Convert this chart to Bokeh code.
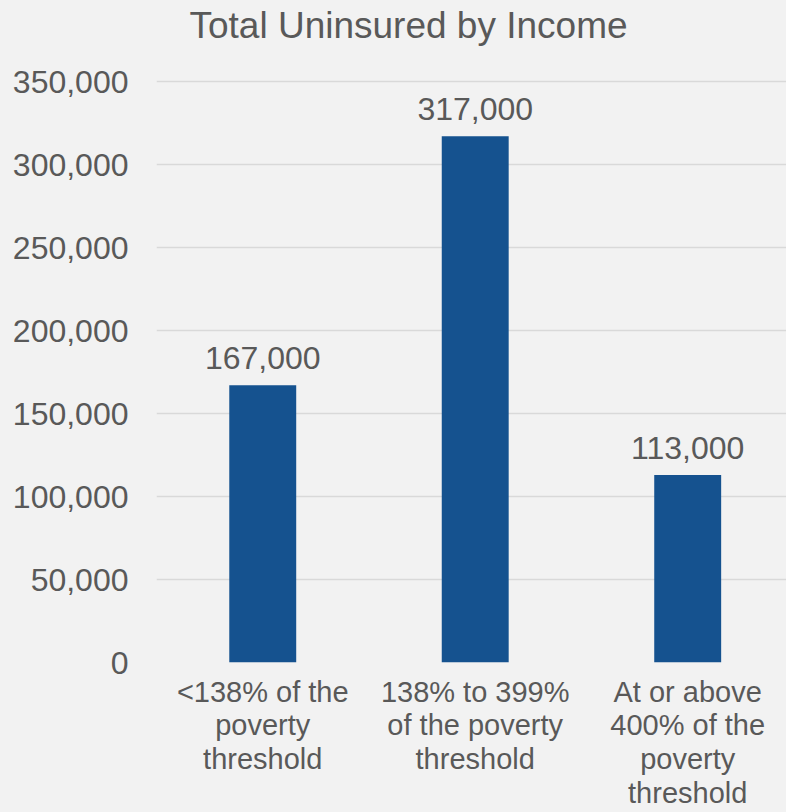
from bokeh.plotting import figure
from bokeh.models import Range1d, FixedTicker, NumeralTickFormatter, ColumnDataSource, Label
from bokeh.embed import file_html
from bokeh.resources import INLINE
from bokeh.core.properties import value

title_text = "Total Uninsured by Income"
categories = ["<138% of the\npoverty\nthreshold",
              "138% to 399%\nof the poverty\nthreshold",
              "At or above\n400% of the\npoverty\nthreshold"]
uninsured = [167000, 317000, 113000]
value_labels = ["167,000", "317,000", "113,000"]
y_ticks = [0, 50000, 100000, 150000, 200000, 250000, 300000, 350000]

BG = "#F2F2F2"
TXT = "#595959"
FONT = "Liberation Sans"

xs = [i + 0.5 for i in range(len(categories))]
src = ColumnDataSource(dict(x=xs, top=uninsured, lab=value_labels))

# frame spans the full height above the axis; the 350,000 line sits 81px from the top
p = figure(width=786, height=812, output_backend="svg", toolbar_location=None,
           x_range=Range1d(0, 2.965), y_range=Range1d(0, 398800),
           min_border_left=156, min_border_right=0, min_border_top=0, min_border_bottom=150,
           background_fill_color=BG, border_fill_color=BG, outline_line_color=None)
p.title.visible = False

p.add_layout(Label(x=33, y=637, x_units="screen", y_units="screen", text=title_text,
                   text_font=FONT, text_font_size="37px", text_color=TXT,
                   text_align="left", text_baseline="alphabetic"))

p.vbar(x="x", top="top", width=0.315, source=src, fill_color="#15528F", line_color=None)
p.text(x="x", y="top", text="lab", source=src, text_align="center", text_baseline="alphabetic",
       y_offset=-27, text_font=value(FONT), text_font_size="32px", text_color=TXT)

p.xgrid.grid_line_color = None
p.ygrid.grid_line_color = "#D9D9D9"
p.ygrid.grid_line_width = 1.5

p.yaxis.ticker = FixedTicker(ticks=y_ticks)
p.yaxis.formatter = NumeralTickFormatter(format="0,0")
p.xaxis.ticker = FixedTicker(ticks=xs)
p.xaxis.major_label_overrides = {x: c for x, c in zip(xs, categories)}

for ax in (p.xaxis[0], p.yaxis[0]):
    ax.axis_line_color = None
    ax.major_tick_line_color = None
    ax.minor_tick_line_color = None
    ax.major_label_text_font = FONT
    ax.major_label_text_color = TXT
p.yaxis.major_label_text_font_size = "32px"
p.xaxis.major_label_text_font_size = "29px"
p.yaxis.major_label_standoff = 22
p.xaxis.major_label_standoff = 7
p.xaxis.major_label_text_line_height = 1.06

html = file_html(p, INLINE)
html = html.replace("<head>", "<head><style>body{background:#F2F2F2;}</style>", 1)
open("out.html", "w").write(html)
